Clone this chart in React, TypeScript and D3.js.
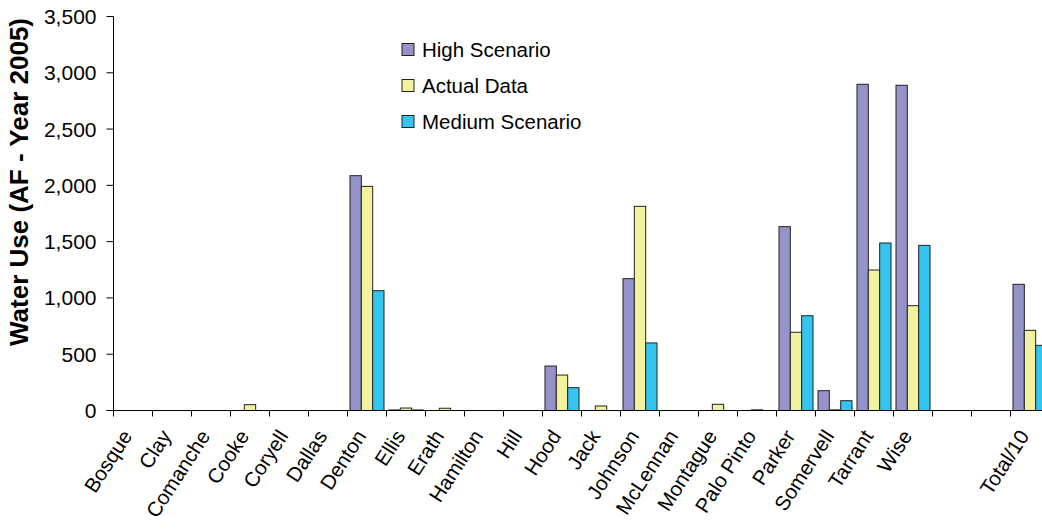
import React from "react";
import * as d3 from "d3";

const categories = ["Bosque","Clay","Comanche","Cooke","Coryell","Dallas","Denton","Ellis","Erath","Hamilton","Hill","Hood","Jack","Johnson","McLennan","Montague","Palo Pinto","Parker","Somervell","Tarrant","Wise","","","Total/10"];
const highScenario = [0,0,0,0,0,0,2086,5,0,0,0,395,0,1171,0,0,0,1633,176,2898,2889,0,0,1121];
const actualData = [0,0,0,52,0,0,1991,22,20,0,0,315,40,1814,0,55,6,695,6,1248,931,0,0,712];
const mediumScenario = [0,0,0,0,0,0,1064,5,0,0,0,203,0,600,0,0,0,842,87,1488,1467,0,0,579];
const seriesNames = ["High Scenario","Actual Data","Medium Scenario"];
const seriesColors = ["#9693C8","#F2F29E","#33C5EF"];
const yTicks = [0,500,1000,1500,2000,2500,3000,3500];

const W = 1042, H = 529;
const X0 = 113.5, STEP = 39, Y0 = 410.5, Y1 = 16.5;
const FONT = "'Liberation Sans', Arial, sans-serif";

export default function App() {
  const keys = categories.map((c, i) => `${i}`);
  const x = d3.scaleBand<string>().domain(keys).range([X0, X0 + STEP * keys.length]).paddingInner(0).paddingOuter(0);
  const x1 = d3.scaleBand<string>().domain(seriesNames).range([0, x.bandwidth()]).paddingInner(0).paddingOuter(0.22);
  const y = d3.scaleLinear().domain([0, 3500]).range([Y0, Y1]);
  const fmt = d3.format(",");
  const data = [highScenario, actualData, mediumScenario];

  return (
    <svg width={W} height={H} style={{ position: "absolute", left: 0, top: 0, background: "#fff" }} fontFamily={FONT}>
      <rect x={0} y={0} width={W} height={H} fill="#fff" />
      {/* bars */}
      {data.map((vals, si) =>
        vals.map((v, ci) =>
          v > 0 ? (
            <rect
              key={`b${si}-${ci}`}
              x={(x(keys[ci]) as number) + (x1(seriesNames[si]) as number)}
              y={y(v)}
              width={x1.bandwidth()}
              height={Y0 - y(v)}
              fill={seriesColors[si]}
              stroke="#222"
              strokeWidth={1}
            />
          ) : null
        )
      )}
      {/* y axis */}
      <line x1={X0} x2={X0} y1={Y1} y2={Y0} stroke="#000" strokeWidth={1} />
      {yTicks.map((t) => (
        <g key={`yt${t}`}>
          <line x1={X0 - 7} x2={X0} y1={y(t)} y2={y(t)} stroke="#000" strokeWidth={1} />
          <text x={X0 - 17} y={y(t)} dy="0.36em" textAnchor="end" fontSize={21} fill="#000">{fmt(t)}</text>
        </g>
      ))}
      {/* x axis */}
      <line x1={X0 - 7} x2={W} y1={Y0} y2={Y0} stroke="#000" strokeWidth={1} />
      {keys.map((k) => (
        <line key={`xt${k}`} x1={x(k) as number} x2={x(k) as number} y1={Y0} y2={Y0 + 6} stroke="#000" strokeWidth={1} />
      ))}
      {categories.map((c, i) => {
        const cx = (x(keys[i]) as number) + x.bandwidth() / 2;
        const cy = 436;
        return c ? (
          <text key={`xl${i}`} x={cx} y={cy} textAnchor="end" fontSize={20.5} fill="#000" transform={`rotate(-57 ${cx} ${cy})`}>{c}</text>
        ) : null;
      })}
      {/* y title */}
      <text transform={`translate(28, 182) rotate(-90)`} textAnchor="middle" fontSize={26} fontWeight="bold" fill="#000">Water Use (AF - Year 2005)</text>
      {/* legend */}
      {seriesNames.map((s, i) => (
        <g key={`lg${i}`} transform={`translate(402, ${43.5 + i * 36})`}>
          <rect x={0} y={0} width={12} height={12} fill={seriesColors[i]} stroke="#222" strokeWidth={1} />
          <text x={20} y={6} dy="0.36em" fontSize={20.5} fill="#000">{s}</text>
        </g>
      ))}
    </svg>
  );
}
